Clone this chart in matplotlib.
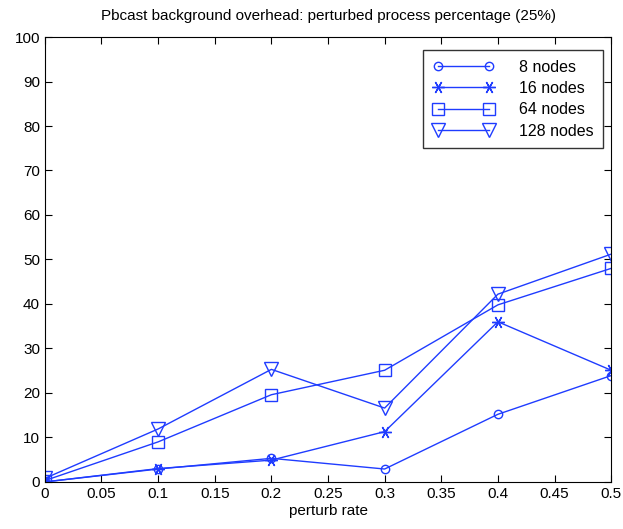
import numpy as np
import matplotlib
matplotlib.use('Agg')
import matplotlib.pyplot as plt

plt.rcParams['font.family'] = ['Liberation Sans', 'DejaVu Sans']

rate = [0, 0.1, 0.2, 0.3, 0.4, 0.5]
nodes8 = [0.0, 2.9, 5.3, 2.9, 15.2, 23.9]
nodes16 = [0.0, 3.0, 4.9, 11.3, 36.0, 25.1]
nodes64 = [0.3, 9.0, 19.6, 25.1, 39.8, 48.0]
nodes128 = [0.8, 11.9, 25.3, 16.6, 42.2, 51.2]

color = '#1f3cff'

fig = plt.figure(figsize=(6.23, 5.29), dpi=100)
ax = fig.add_axes([0.072, 0.089, 0.909, 0.841])

ax.plot(rate, nodes8, '-o', color=color, mfc='none', ms=6, lw=1, label='8 nodes')
ax.plot(rate, nodes16, '-', marker=(6, 2, 90), color=color, ms=9, mew=1, lw=1, label='16 nodes')
ax.plot(rate, nodes64, '-s', color=color, mfc='none', ms=9, lw=1, label='64 nodes')
ax.plot(rate, nodes128, '-v', color=color, mfc='none', ms=10, lw=1, label='128 nodes')

ax.set_xlim(0, 0.5)
ax.set_ylim(0, 100)
ax.set_xticks(np.arange(0, 0.51, 0.05))
ax.set_xticklabels(['0', '0.05', '0.1', '0.15', '0.2', '0.25', '0.3', '0.35', '0.4', '0.45', '0.5'])
ax.set_yticks(np.arange(0, 101, 10))
ax.tick_params(direction='in', top=True, right=True, labelsize=11, length=5)
ax.set_xlabel('perturb rate', fontsize=11, labelpad=2)
ax.set_title('Pbcast background overhead: perturbed process percentage (25%)', fontsize=11, pad=12)

leg = ax.legend(loc='upper right', numpoints=2, fancybox=False, edgecolor='black',
                fontsize=11.5, handlelength=3.8, handletextpad=1.6, borderaxespad=0,
                labelspacing=0.4, borderpad=0.6, bbox_to_anchor=(0.986, 0.971))
leg.get_frame().set_linewidth(1)

fig.savefig('out.png', dpi=100)
